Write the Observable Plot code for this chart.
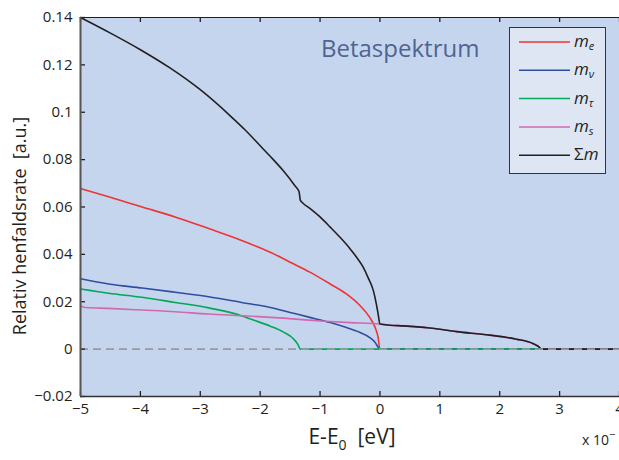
<!DOCTYPE html>
<html><head><meta charset="utf-8">
<script src="https://cdn.jsdelivr.net/npm/d3@7"></script>
<script src="https://cdn.jsdelivr.net/npm/@observablehq/plot@0.6"></script>
<style>
html,body{margin:0;padding:0;background:#fff;overflow:hidden;}
#wrap{position:relative;width:619px;height:460px;overflow:hidden;}
#wrap svg{display:block;}
</style></head><body><div id="wrap"></div>
<script>
// ---- data (x in units of the axis, scaled by the x10^- exponent) ----
const seriesNames = ["m_e", "m_nu", "m_tau", "m_s", "sum_m"];
const seriesColors = ["#ee3334", "#2f4f9e", "#00a857", "#d068b2", "#231f20"];

const meX = [-5, -4.53, -3.97, -3.42, -2.86, -2.31, -2.17, -1.83, -1.5, -1.17, -0.83, -0.56, -0.33, -0.17, -0.08, -0.03, 0, 4];
const meY = [0.0678, 0.0643, 0.0600, 0.0558, 0.0509, 0.0459, 0.0445, 0.0409, 0.0367, 0.0325, 0.0275, 0.0233, 0.0183, 0.0134, 0.0091, 0.0049, 0, 0];

const mnuX = [-5, -4.53, -3.97, -3.42, -2.86, -2.31, -1.83, -1.5, -1.17, -0.83, -0.56, -0.33, -0.17, -0.08, -0.03, 0, 4];
const mnuY = [0.0297, 0.0275, 0.0258, 0.0240, 0.0221, 0.0197, 0.0176, 0.0155, 0.0134, 0.0112, 0.0091, 0.0070, 0.0049, 0.0028, 0.0008, 0, 0];

const mtauX = [-5, -4.53, -3.97, -3.42, -2.86, -2.31, -2.17, -1.83, -1.61, -1.45, -1.37, -1.33, 4];
const mtauY = [0.0254, 0.0236, 0.0219, 0.0197, 0.0174, 0.0141, 0.0128, 0.0097, 0.0072, 0.0045, 0.0020, 0, 0];

const msX = [-5, -4.92, -4.53, -3.97, -3.42, -2.86, -2.31, -1.75, -1.06, -0.5, 0, 0.17, 0.39, 0.83, 1.28, 1.83, 2.28, 2.56, 2.67, 2.69, 4];
const msY = [0.0183, 0.0176, 0.0172, 0.0165, 0.0158, 0.0148, 0.0141, 0.0133, 0.0120, 0.0112, 0.0106, 0.0101, 0.0098, 0.0089, 0.0074, 0.0059, 0.0042, 0.0023, 0.0006, 0, 0];

const sumX = [-5, -4.5, -4, -3.5, -3, -2.5, -2.25, -1.95, -1.78, -1.61, -1.42, -1.35, -1.33, -1.28, -1.17, -1.0, -0.83, -0.67, -0.5, -0.39, -0.28, -0.2, -0.11, -0.06, -0.03, 0, 0.17, 0.39, 0.83, 1.28, 1.83, 2.28, 2.56, 2.67, 2.69, 4];
const sumY = [0.140, 0.1334, 0.1264, 0.1186, 0.1095, 0.0985, 0.0925, 0.0845, 0.0800, 0.0752, 0.0690, 0.0664, 0.0629, 0.0615, 0.0594, 0.0558, 0.0515, 0.0473, 0.0424, 0.0388, 0.0346, 0.0303, 0.0247, 0.0190, 0.0148, 0.0106, 0.0101, 0.0098, 0.0089, 0.0074, 0.0059, 0.0042, 0.0023, 0.0006, 0, 0];

const xTicks = [-5, -4, -3, -2, -1, 0, 1, 2, 3, 4];
const yTicks = [-0.02, 0, 0.02, 0.04, 0.06, 0.08, 0.1, 0.12, 0.14];

// ---- build table ----
const allX = [meX, mnuX, mtauX, msX, sumX];
const allY = [meY, mnuY, mtauY, msY, sumY];
const rows = [];
seriesNames.forEach((s, i) => allX[i].forEach((x, j) => rows.push({series: s, x, y: allY[i][j]})));

const fmt = d => (d < 0 ? "\u2212" : "") + Math.abs(d);
const W = 619, H = 460, mL = 80, mR = 0, mT = 17, mB = 64;
const fw = W - mL - mR, fh = H - mT - mB;
const bg = "#c6d5ee";
const font = "'Open Sans', sans-serif";

const chart = Plot.plot({
  width: W, height: H,
  marginLeft: mL, marginRight: mR, marginTop: mT, marginBottom: mB,
  style: {background: "white", fontFamily: font, fontSize: "15px", color: "#231f20", overflow: "hidden"},
  x: {domain: [-5, 4], label: null},
  y: {domain: [-0.02, 0.14], label: null},
  color: {domain: seriesNames, range: seriesColors},
  marks: [
    Plot.frame({fill: bg, stroke: null}),
    Plot.line(rows, {x: "x", y: "y", z: "series", stroke: "series", strokeWidth: 1.6, curve: "monotone-x"}),
    Plot.ruleY([0], {stroke: "#9b9b9b", strokeWidth: 1.6, strokeDasharray: "8,5"}),
    Plot.tickX(xTicks, {x: d => d, insetTop: fh - 5, stroke: "#231f20", strokeWidth: 1.3}),
    Plot.tickX(xTicks, {x: d => d, insetBottom: fh - 5, stroke: "#231f20", strokeWidth: 1.3}),
    Plot.tickY(yTicks, {y: d => d, insetRight: fw - 5, stroke: "#231f20", strokeWidth: 1.3}),
    Plot.axisX({ticks: xTicks, tickFormat: fmt, tickSize: 0, tickPadding: 7, fontSize: 15, label: null}),
    Plot.axisY({ticks: yTicks, tickFormat: fmt, tickSize: 0, tickPadding: 8, fontSize: 15, label: null}),
    Plot.ruleY([0.14], {stroke: "#231f20", strokeWidth: 1}),
    Plot.ruleY([-0.02], {stroke: "#333", strokeWidth: 1.5}),
    Plot.ruleX([-5], {stroke: "#555", strokeWidth: 2})
  ]
});
document.getElementById("wrap").appendChild(chart);

// ---- texts & legend ----
const svg = d3.select(chart);
const ns = svg.append("g").attr("font-family", font).attr("fill", "#231f20").attr("text-anchor", "start");

ns.append("text").attr("x", 321).attr("y", 57).attr("font-size", 24).attr("fill", "#4e6491").text("Betaspektrum");

ns.append("text").attr("transform", "translate(26,226) rotate(-90)").attr("text-anchor", "middle")
  .attr("font-size", 18).text("Relativ henfaldsrate\u00a0 [a.u.]");

const xl = ns.append("text").attr("x", 352).attr("y", 444).attr("text-anchor", "middle").attr("font-size", 21);
xl.append("tspan").text("E-E");
xl.append("tspan").attr("font-size", 14).attr("dy", 6).text("0");
xl.append("tspan").attr("dy", -6).text("\u00a0 [eV]");

const ex = ns.append("text").attr("x", 582).attr("y", 445).attr("font-size", 14);
ex.append("tspan").text("x 10");
ex.append("tspan").attr("dy", -7).attr("font-size", 11).text("\u2212");

const lg = ns.append("g");
lg.append("rect").attr("x", 509.5).attr("y", 27.5).attr("width", 96).attr("height", 146)
  .attr("fill", "#dee6f4").attr("stroke", "#333").attr("stroke-width", 1);
const legLabels = [["m", "e"], ["m", "\u03bd"], ["m", "\u03c4"], ["m", "s"], ["\u03a3m", ""]];
legLabels.forEach((l, i) => {
  const y = 42 + i * 28.3;
  lg.append("line").attr("x1", 519).attr("x2", 570).attr("y1", y).attr("y2", y)
    .attr("stroke", seriesColors[i]).attr("stroke-width", 1.5);
  const t = lg.append("text").attr("x", 574).attr("y", y + 5).attr("font-size", 17);
  if (i === 4) {
    t.append("tspan").text("\u03a3");
    t.append("tspan").attr("font-style", "italic").text("m");
  } else {
    t.append("tspan").attr("font-style", "italic").text(l[0]);
    t.append("tspan").attr("font-style", "italic").attr("font-size", 11).attr("dy", 3).text(l[1]);
  }
});
</script></body></html>
